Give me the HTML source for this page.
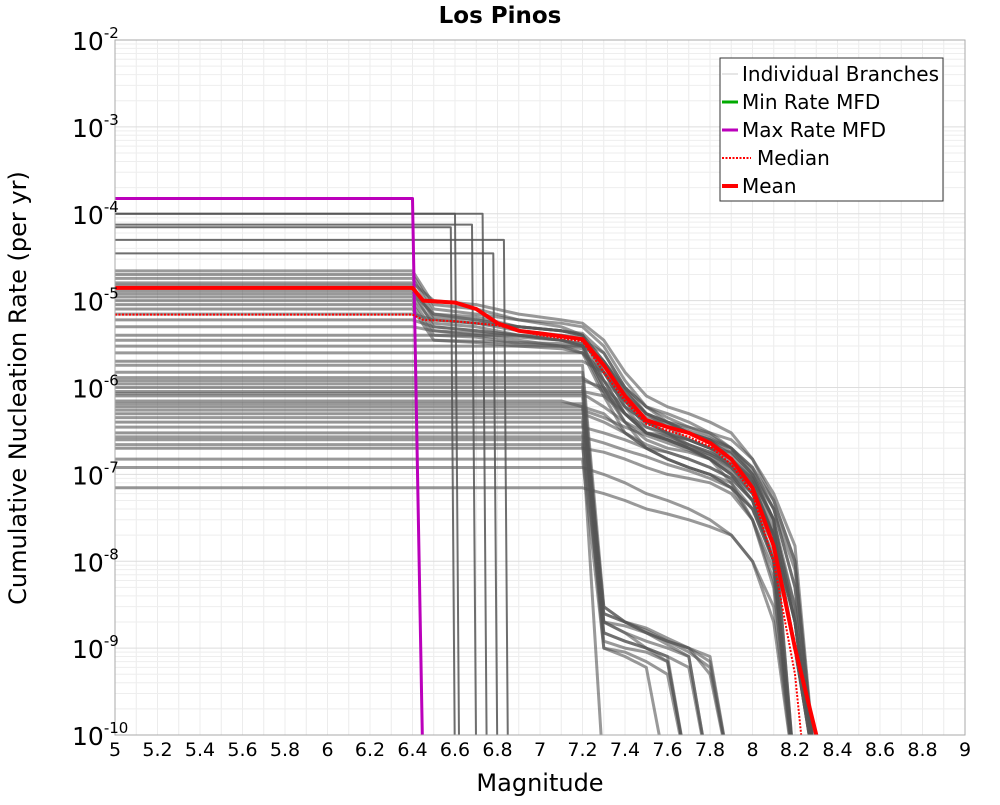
<!DOCTYPE html>
<html><head><meta charset="utf-8"><style>
body{margin:0;background:#fff;}
svg{font-family:"DejaVu Sans","Liberation Sans",sans-serif;}
</style></head><body>
<svg id="chart" width="1000" height="800" xmlns="http://www.w3.org/2000/svg">
<defs><clipPath id="pc"><rect x="115" y="40" width="850" height="695"/></clipPath></defs>
<rect x="0" y="0" width="1000" height="800" fill="#fff"/>
<g id="grid"></g>
<g id="series" clip-path="url(#pc)"></g>
<rect x="115" y="40" width="850" height="695" fill="none" stroke="#aaa"/>
<g id="xt"></g>
<g id="yt"></g>
<text x="500" y="23" text-anchor="middle" font-size="23" font-weight="bold">Los Pinos</text>
<text x="540" y="791" text-anchor="middle" font-size="24">Magnitude</text>
<text transform="translate(26,388) rotate(-90)" text-anchor="middle" font-size="24">Cumulative Nucleation Rate (per yr)</text>
<g>
<rect x="720" y="58" width="223" height="143" fill="#fff" stroke="#333"/>
<line x1="722" y1="74" x2="738" y2="74" stroke="#ccc" stroke-width="1"/>
<text x="742" y="81" font-size="20">Individual Branches</text>
<line x1="722" y1="102" x2="738" y2="102" stroke="#0a0" stroke-width="3"/>
<text x="742" y="109" font-size="20">Min Rate MFD</text>
<line x1="722" y1="130" x2="738" y2="130" stroke="#b0b" stroke-width="3"/>
<text x="742" y="137" font-size="20">Max Rate MFD</text>
<line x1="722" y1="158" x2="751" y2="158" stroke="#f00" stroke-width="2" stroke-dasharray="2,1.5"/>
<text x="757" y="165" font-size="20">Median</text>
<line x1="722" y1="186" x2="738" y2="186" stroke="#f00" stroke-width="4"/>
<text x="742" y="193" font-size="20">Mean</text>
</g>
</svg>
<script>
const grid=[5,6.4,6.5,6.7,6.9,7.1,7.2,7.3,7.4,7.5,7.6,7.7,7.8,7.9,8.0,8.1,8.2,8.3];
const branchRates=[
[2.2e-5,2.2e-5,9e-6,8e-6,6e-6,5e-6,4e-6,2e-6,9e-7,5e-7,4e-7,3e-7,2.5e-7,1.5e-7,8e-8,2e-8,0,0],
[2.0e-5,2.0e-5,8e-6,7e-6,6e-6,5.5e-6,5e-6,3e-6,1.2e-6,6e-7,4e-7,3.5e-7,3e-7,2e-7,1e-7,3e-8,2e-9,0],
[1.8e-5,1.8e-5,7e-6,6.5e-6,5e-6,4.5e-6,4e-6,1.5e-6,6e-7,3e-7,2.5e-7,2e-7,1.5e-7,8e-8,3e-8,5e-9,0,0],
[1.6e-5,1.6e-5,1e-5,9e-6,7e-6,6e-6,5.5e-6,3.5e-6,1.5e-6,8e-7,6e-7,5e-7,4e-7,3e-7,1.5e-7,5e-8,1e-8,0],
[1.5e-5,1.5e-5,6e-6,5.5e-6,4.5e-6,4e-6,3.5e-6,2.5e-6,1e-6,5e-7,3.5e-7,2.5e-7,2e-7,1.2e-7,6e-8,1.5e-8,1e-9,0],
[1.4e-5,1.4e-5,6.5e-6,6e-6,5e-6,4.5e-6,4e-6,1.2e-6,5e-7,3e-7,2.8e-7,2.5e-7,2e-7,1.8e-7,1e-7,4e-8,5e-9,0],
[1.3e-5,1.3e-5,5e-6,4.5e-6,4e-6,3.5e-6,3e-6,1e-6,4e-7,2.5e-7,2e-7,1.8e-7,1.5e-7,1e-7,5e-8,1e-8,0,0],
[1.2e-5,1.2e-5,7e-6,6e-6,5e-6,4.5e-6,4e-6,2e-6,8e-7,4e-7,3e-7,2.2e-7,1.8e-7,1.4e-7,9e-8,3e-8,3e-9,0],
[1.1e-5,1.1e-5,5.5e-6,5e-6,4e-6,3.5e-6,3.2e-6,1.8e-6,7e-7,3.5e-7,3e-7,2.5e-7,2e-7,1.5e-7,8e-8,2e-8,2e-9,0],
[1.0e-5,1.0e-5,4.5e-6,4e-6,3.5e-6,3e-6,2.8e-6,9e-7,4e-7,2e-7,1.5e-7,1.2e-7,1e-7,7e-8,3e-8,6e-9,0,0],
[9e-6,9e-6,4e-6,3.8e-6,3.2e-6,3e-6,2.5e-6,1.5e-6,6e-7,4e-7,3.5e-7,3e-7,2.5e-7,2e-7,1.2e-7,4e-8,8e-9,0],
[8e-6,8e-6,3.5e-6,3.3e-6,3e-6,2.8e-6,2.5e-6,8e-7,3e-7,2e-7,1.8e-7,1.5e-7,1.2e-7,9e-8,5e-8,1e-8,0,0],
[7e-6,7e-6,6e-6,5.5e-6,5e-6,4.5e-6,4.2e-6,2.5e-6,1e-6,6e-7,5e-7,4e-7,3e-7,2.5e-7,1.5e-7,6e-8,1.5e-8,0],
[6e-6,6e-6,5e-6,4.5e-6,4e-6,3.5e-6,3e-6,1.2e-6,5e-7,3e-7,2.5e-7,2e-7,1.6e-7,1.2e-7,7e-8,2e-8,2e-9,0],
[5e-6,5e-6,4.5e-6,4.2e-6,3.8e-6,3.5e-6,3.2e-6,2e-6,9e-7,5e-7,4e-7,3.2e-7,2.6e-7,2e-7,1.2e-7,5e-8,1e-8,0],
[4e-6,4e-6,4e-6,4e-6,4e-6,4e-6,3.8e-6,1.5e-6,7e-7,4e-7,3e-7,2.5e-7,2e-7,1.5e-7,9e-8,3e-8,0,0],
[3.5e-6,3.5e-6,3.5e-6,3.4e-6,3.3e-6,3.2e-6,3e-6,2e-6,1e-6,6e-7,4.5e-7,3.5e-7,2.8e-7,2e-7,1.1e-7,4e-8,5e-9,0],
[3e-6,3e-6,3e-6,3e-6,3e-6,3e-6,3e-6,1e-6,5e-7,3e-7,2.5e-7,2e-7,1.7e-7,1.3e-7,8e-8,2.5e-8,3e-9,0],
[2.5e-6,2.5e-6,2.5e-6,2.5e-6,2.5e-6,2.5e-6,2.5e-6,1.2e-6,7e-7,4.5e-7,3.8e-7,3e-7,2.4e-7,1.7e-7,9e-8,3e-8,2e-9,0],
[2e-6,2e-6,2e-6,2e-6,2e-6,2e-6,2e-6,1.5e-6,8e-7,5e-7,4e-7,3e-7,2.5e-7,1.8e-7,1e-7,3e-8,0,0],
[1.8e-6,1.8e-6,1.8e-6,1.8e-6,1.8e-6,1.8e-6,1.8e-6,3e-9,2e-9,1.6e-9,1.2e-9,9e-10,6e-10,0,0,0,0,0],
[1.5e-6,1.5e-6,1.5e-6,1.5e-6,1.5e-6,1.5e-6,1.5e-6,2e-9,1.5e-9,1.2e-9,1e-9,8e-10,0,0,0,0,0,0],
[1.3e-6,1.3e-6,1.3e-6,1.3e-6,1.3e-6,1.3e-6,1.3e-6,9e-7,5e-7,3.5e-7,2.8e-7,2.2e-7,1.7e-7,1.2e-7,7e-8,2e-8,1e-9,0],
[1.2e-6,1.2e-6,1.2e-6,1.2e-6,1.2e-6,1.2e-6,1.2e-6,1e-6,6e-7,4e-7,3e-7,2e-7,1.5e-7,1e-7,6e-8,2e-8,2e-9,0],
[1.1e-6,1.1e-6,1.1e-6,1.1e-6,1.1e-6,1.1e-6,1.1e-6,2.5e-9,2e-9,1.7e-9,1.3e-9,1e-9,7e-10,0,0,0,0,0],
[1.0e-6,1.0e-6,1.0e-6,1.0e-6,1.0e-6,1.0e-6,1.0e-6,1.5e-9,1.2e-9,1e-9,7e-10,0,0,0,0,0,0,0],
[9e-7,9e-7,9e-7,9e-7,9e-7,9e-7,9e-7,8e-7,5e-7,3e-7,2.5e-7,2e-7,1.5e-7,1e-7,5e-8,1e-8,0,0],
[8.5e-7,8.5e-7,8.5e-7,8.5e-7,8.5e-7,8.5e-7,8.5e-7,6e-7,4e-7,3e-7,2.6e-7,2.2e-7,1.8e-7,1.3e-7,7e-8,2e-8,2e-9,0],
[8e-7,8e-7,8e-7,8e-7,8e-7,8e-7,8e-7,3e-9,2e-9,1.5e-9,1.2e-9,1e-9,5e-10,0,0,0,0,0],
[7e-7,7e-7,7e-7,7e-7,7e-7,7e-7,6e-7,5e-7,3e-7,2e-7,1.5e-7,1.2e-7,1e-7,7e-8,4e-8,1e-8,0,0],
[6.5e-7,6.5e-7,6.5e-7,6.5e-7,6.5e-7,6.5e-7,6.5e-7,1.2e-9,1e-9,9e-10,7e-10,0,0,0,0,0,0,0],
[6e-7,6e-7,6e-7,6e-7,6e-7,6e-7,6e-7,2e-9,1.5e-9,1e-9,8e-10,0,0,0,0,0,0,0],
[5.5e-7,5.5e-7,5.5e-7,5.5e-7,5.5e-7,5.5e-7,5.5e-7,4.5e-7,3.5e-7,2.8e-7,2.3e-7,1.9e-7,1.5e-7,1.1e-7,6e-8,2e-8,1e-9,0],
[5e-7,5e-7,5e-7,5e-7,5e-7,5e-7,5e-7,4e-7,3e-7,2.2e-7,1.8e-7,1.5e-7,1.2e-7,9e-8,5e-8,1.5e-8,1e-9,0],
[4.5e-7,4.5e-7,4.5e-7,4.5e-7,4.5e-7,4.5e-7,4.5e-7,2.5e-9,2e-9,1.5e-9,1.1e-9,8e-10,0,0,0,0,0,0],
[4e-7,4e-7,4e-7,4e-7,4e-7,4e-7,4e-7,1e-9,9e-10,7e-10,5e-10,0,0,0,0,0,0,0],
[3.5e-7,3.5e-7,3.5e-7,3.5e-7,3.5e-7,3.5e-7,3.5e-7,3e-7,2.5e-7,2e-7,1.5e-7,1.2e-7,1e-7,8e-8,4e-8,1e-8,0,0],
[3e-7,3e-7,3e-7,3e-7,3e-7,3e-7,3e-7,2e-9,1.8e-9,1.5e-9,1.2e-9,1e-9,8e-10,0,0,0,0,0],
[2.7e-7,2.7e-7,2.7e-7,2.7e-7,2.7e-7,2.7e-7,2.7e-7,2.3e-7,1.9e-7,1.6e-7,1.3e-7,1.1e-7,9e-8,7e-8,4e-8,1.2e-8,0,0],
[2.5e-7,2.5e-7,2.5e-7,2.5e-7,2.5e-7,2.5e-7,2.5e-7,0,0,0,0,0,0,0,0,0,0,0],
[2.2e-7,2.2e-7,2.2e-7,2.2e-7,2.2e-7,2.2e-7,2.2e-7,1.5e-9,1.2e-9,1e-9,8e-10,6e-10,0,0,0,0,0,0],
[2e-7,2e-7,2e-7,2e-7,2e-7,2e-7,2e-7,1.8e-7,1.5e-7,1.2e-7,1e-7,9e-8,8e-8,6e-8,3e-8,8e-9,0,0],
[1.5e-7,1.5e-7,1.5e-7,1.5e-7,1.5e-7,1.5e-7,1.5e-7,1e-9,8e-10,6e-10,0,0,0,0,0,0,0,0],
[1.2e-7,1.2e-7,1.2e-7,1.2e-7,1.2e-7,1.2e-7,1.2e-7,1e-7,8e-8,6e-8,5e-8,4e-8,3e-8,2e-8,1e-8,2e-9,0,0],
[7e-8,7e-8,7e-8,7e-8,7e-8,7e-8,7e-8,6e-8,5e-8,4e-8,3.5e-8,3e-8,2.5e-8,2e-8,1e-8,3e-9,0,0]
];
const bigLevels=[1e-4,1e-4,7.5e-5,7e-5,5e-5,3.5e-5];
const bigCuts=[6.62,6.75,6.7,6.6,6.85,6.8];
const maxMags=[5,6.4,6.45];
const maxRates=[1.5e-4,1.5e-4,1e-11];
const meanMags=[5,6.4,6.45,6.6,6.7,6.8,6.9,7.0,7.2,7.3,7.4,7.5,7.6,7.7,7.8,7.9,8.0,8.1,8.2,8.3];
const meanRates=[1.4e-5,1.4e-5,1.0e-5,9.5e-6,8e-6,5.5e-6,4.5e-6,4.2e-6,3.6e-6,1.8e-6,8e-7,4.2e-7,3.5e-7,3e-7,2.3e-7,1.5e-7,7e-8,1.5e-8,1e-9,1e-10];
const medMags=[5,6.4,6.45,6.6,6.8,6.9,7.0,7.2,7.3,7.4,7.5,7.6,7.7,7.8,7.9,8.0,8.1,8.2,8.25];
const medRates=[6.9e-6,6.9e-6,6e-6,5.8e-6,5.2e-6,4.5e-6,4e-6,3.4e-6,1.5e-6,7e-7,3.8e-7,3.2e-7,2.7e-7,2.1e-7,1.3e-7,6e-8,1e-8,5e-10,1e-11];
const xTicks=[5,5.2,5.4,5.6,5.8,6,6.2,6.4,6.6,6.8,7,7.2,7.4,7.6,7.8,8,8.2,8.4,8.6,8.8,9];
const yExps=[-2,-3,-4,-5,-6,-7,-8,-9,-10];

const NS="http://www.w3.org/2000/svg";
const X=m=>115+(m-5)*212.5;
const Y=r=>{const e=r>0?Math.log10(r):-10.5;return 40+(-2-Math.max(e,-10.5))*86.875;};
function mk(t,a,p){const e=document.createElementNS(NS,t);for(const k in a)e.setAttribute(k,a[k]);p.appendChild(e);return e;}
const G=document.getElementById('grid'),S=document.getElementById('series');
for(let m=5;m<=9.001;m+=0.1){const l=mk('line',{x1:X(m),x2:X(m),y1:40,y2:735,stroke:'#ececec'},G);
}
for(let e=-10;e<-2;e++)for(let k=1;k<10;k++){const y=Y(k*Math.pow(10,e));const l=mk('line',{x1:115,x2:965,y1:y,y2:y,stroke:k==1?'#ddd':'#eeeeee'},G);
}
function path(ms,rs,attrs,name){let d='';ms.forEach((m,i)=>{d+=(i?'L':'M')+X(m).toFixed(1)+','+Y(rs[i]).toFixed(1);});
const p=mk('path',Object.assign({d:d,fill:'none','stroke-linejoin':'round'},attrs),S);}
branchRates.forEach(rs=>path(grid,rs,{stroke:'#555','stroke-opacity':0.6,'stroke-width':3},'branch-line'));
bigLevels.forEach((lv,i)=>path([5,bigCuts[i]-0.02,bigCuts[i]],[lv,lv,1e-11],{stroke:'#555','stroke-opacity':0.85,'stroke-width':2},'branch-line-high'));
path(maxMags,maxRates,{stroke:'#b0b','stroke-width':3},'max-rate-mfd');
path(medMags,medRates,{stroke:'#f00','stroke-width':2,'stroke-dasharray':'2,1.5'},'median-line');
path(meanMags,meanRates,{stroke:'#f00','stroke-width':4},'mean-line');
const XT=document.getElementById('xt'),YT=document.getElementById('yt');
xTicks.forEach(v=>{const t=mk('text',{x:X(v),y:756,'text-anchor':'middle','font-size':19},XT);t.textContent=String(v);
});
yExps.forEach(e=>{const y=Y(Math.pow(10,e));const t=mk('text',{x:72,y:y+10,'font-size':25},YT);

const a=mk('tspan',{},t);a.textContent='10';const b=mk('tspan',{'font-size':15,dy:-12},t);b.textContent=String(e);});
</script>
</body></html>
